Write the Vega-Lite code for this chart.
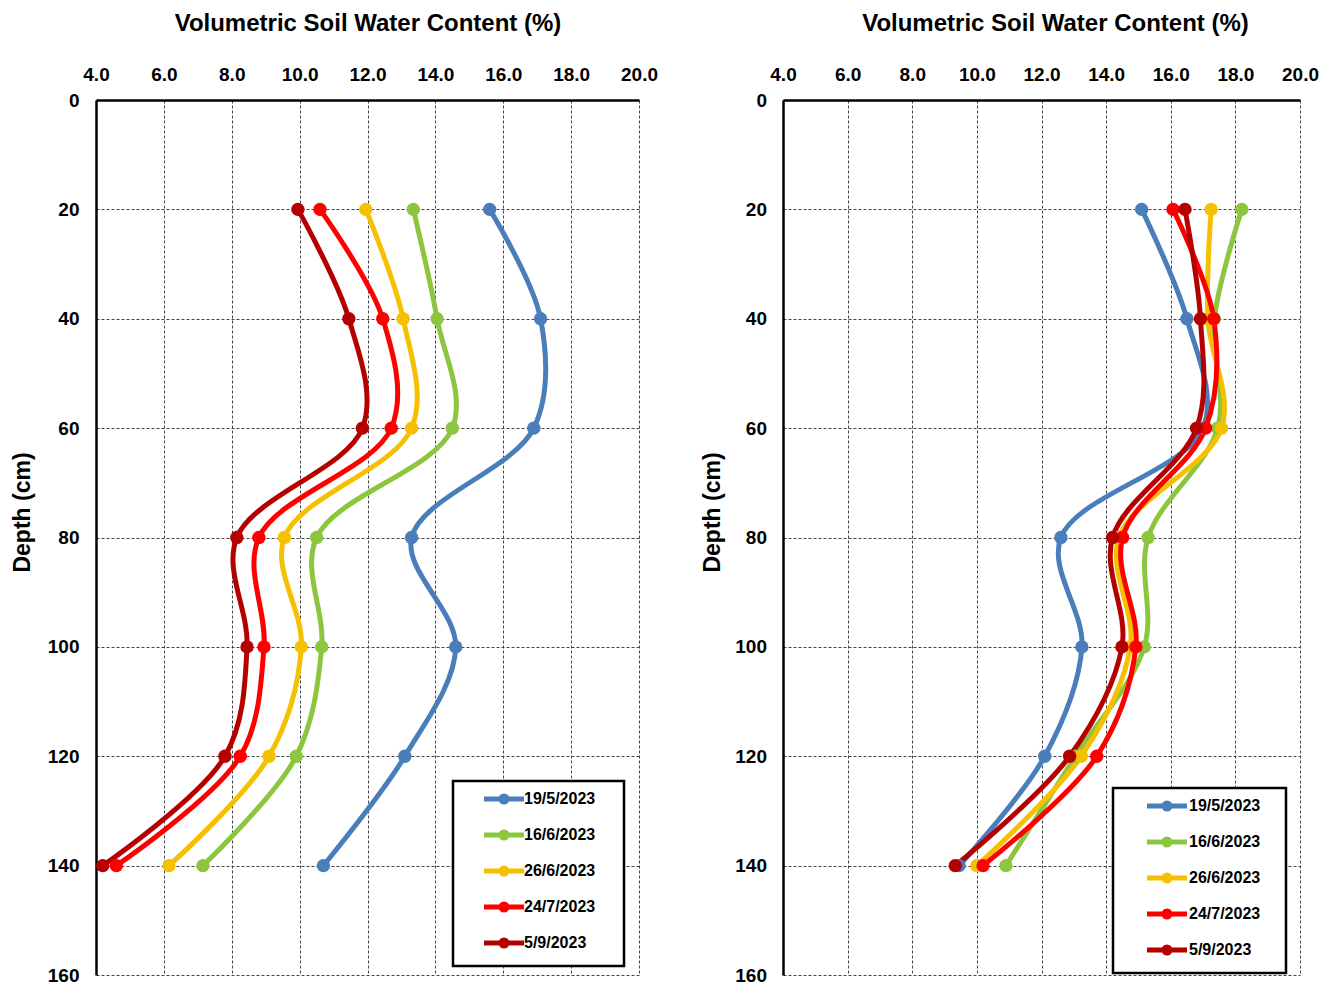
{
  "$schema": "https://vega.github.io/schema/vega-lite/v6.json",
  "autosize": {"type": "none"},
  "padding": {"left": 96, "top": 100, "right": 1237, "bottom": 884},
  "background": "white",
  "config": {
    "font": "Liberation Sans",
    "view": {"stroke": null},
    "legend": {"strokeColor": "black", "strokeWidth": 2.5, "fillColor": "white"},
    "axis": {
      "domainColor": "black",
      "domainWidth": 2.5,
      "ticks": false,
      "grid": true,
      "gridColor": "#444444",
      "gridDash": [3, 2],
      "gridWidth": 1,
      "labelFont": "Liberation Sans",
      "labelFontWeight": "bold",
      "labelFontSize": 19,
      "labelColor": "black",
      "labelFlush": false,
      "labelOverlap": false,
      "titleFont": "Liberation Sans",
      "titleFontWeight": "bold",
      "titleFontSize": 24,
      "titleColor": "black"
    }
  },
  "data": {
    "values": [
      {"panel": "a", "date": "19/5/2023", "depth": 20, "vwc": 15.6},
      {"panel": "a", "date": "19/5/2023", "depth": 40, "vwc": 17.1},
      {"panel": "a", "date": "19/5/2023", "depth": 60, "vwc": 16.9},
      {"panel": "a", "date": "19/5/2023", "depth": 80, "vwc": 13.3},
      {"panel": "a", "date": "19/5/2023", "depth": 100, "vwc": 14.6},
      {"panel": "a", "date": "19/5/2023", "depth": 120, "vwc": 13.1},
      {"panel": "a", "date": "19/5/2023", "depth": 140, "vwc": 10.7},
      {"panel": "a", "date": "16/6/2023", "depth": 20, "vwc": 13.35},
      {"panel": "a", "date": "16/6/2023", "depth": 40, "vwc": 14.05},
      {"panel": "a", "date": "16/6/2023", "depth": 60, "vwc": 14.5},
      {"panel": "a", "date": "16/6/2023", "depth": 80, "vwc": 10.5},
      {"panel": "a", "date": "16/6/2023", "depth": 100, "vwc": 10.65},
      {"panel": "a", "date": "16/6/2023", "depth": 120, "vwc": 9.9},
      {"panel": "a", "date": "16/6/2023", "depth": 140, "vwc": 7.15},
      {"panel": "a", "date": "26/6/2023", "depth": 20, "vwc": 11.95},
      {"panel": "a", "date": "26/6/2023", "depth": 40, "vwc": 13.05},
      {"panel": "a", "date": "26/6/2023", "depth": 60, "vwc": 13.3},
      {"panel": "a", "date": "26/6/2023", "depth": 80, "vwc": 9.55},
      {"panel": "a", "date": "26/6/2023", "depth": 100, "vwc": 10.05},
      {"panel": "a", "date": "26/6/2023", "depth": 120, "vwc": 9.1},
      {"panel": "a", "date": "26/6/2023", "depth": 140, "vwc": 6.15},
      {"panel": "a", "date": "24/7/2023", "depth": 20, "vwc": 10.6},
      {"panel": "a", "date": "24/7/2023", "depth": 40, "vwc": 12.45},
      {"panel": "a", "date": "24/7/2023", "depth": 60, "vwc": 12.7},
      {"panel": "a", "date": "24/7/2023", "depth": 80, "vwc": 8.8},
      {"panel": "a", "date": "24/7/2023", "depth": 100, "vwc": 8.95},
      {"panel": "a", "date": "24/7/2023", "depth": 120, "vwc": 8.25},
      {"panel": "a", "date": "24/7/2023", "depth": 140, "vwc": 4.6},
      {"panel": "a", "date": "5/9/2023", "depth": 20, "vwc": 9.95},
      {"panel": "a", "date": "5/9/2023", "depth": 40, "vwc": 11.45},
      {"panel": "a", "date": "5/9/2023", "depth": 60, "vwc": 11.85},
      {"panel": "a", "date": "5/9/2023", "depth": 80, "vwc": 8.15},
      {"panel": "a", "date": "5/9/2023", "depth": 100, "vwc": 8.45},
      {"panel": "a", "date": "5/9/2023", "depth": 120, "vwc": 7.8},
      {"panel": "a", "date": "5/9/2023", "depth": 140, "vwc": 4.2},
      {"panel": "b", "date": "19/5/2023", "depth": 20, "vwc": 15.1},
      {"panel": "b", "date": "19/5/2023", "depth": 40, "vwc": 16.5},
      {"panel": "b", "date": "19/5/2023", "depth": 60, "vwc": 17.0},
      {"panel": "b", "date": "19/5/2023", "depth": 80, "vwc": 12.6},
      {"panel": "b", "date": "19/5/2023", "depth": 100, "vwc": 13.25},
      {"panel": "b", "date": "19/5/2023", "depth": 120, "vwc": 12.1},
      {"panel": "b", "date": "19/5/2023", "depth": 140, "vwc": 9.45},
      {"panel": "b", "date": "16/6/2023", "depth": 20, "vwc": 18.2},
      {"panel": "b", "date": "16/6/2023", "depth": 40, "vwc": 17.35},
      {"panel": "b", "date": "16/6/2023", "depth": 60, "vwc": 17.45},
      {"panel": "b", "date": "16/6/2023", "depth": 80, "vwc": 15.3},
      {"panel": "b", "date": "16/6/2023", "depth": 100, "vwc": 15.18},
      {"panel": "b", "date": "16/6/2023", "depth": 120, "vwc": 13.05},
      {"panel": "b", "date": "16/6/2023", "depth": 140, "vwc": 10.9},
      {"panel": "b", "date": "26/6/2023", "depth": 20, "vwc": 17.25},
      {"panel": "b", "date": "26/6/2023", "depth": 40, "vwc": 17.15},
      {"panel": "b", "date": "26/6/2023", "depth": 60, "vwc": 17.57},
      {"panel": "b", "date": "26/6/2023", "depth": 80, "vwc": 14.4},
      {"panel": "b", "date": "26/6/2023", "depth": 100, "vwc": 14.75},
      {"panel": "b", "date": "26/6/2023", "depth": 120, "vwc": 13.23},
      {"panel": "b", "date": "26/6/2023", "depth": 140, "vwc": 10.0},
      {"panel": "b", "date": "24/7/2023", "depth": 20, "vwc": 16.07},
      {"panel": "b", "date": "24/7/2023", "depth": 40, "vwc": 17.33},
      {"panel": "b", "date": "24/7/2023", "depth": 60, "vwc": 17.08},
      {"panel": "b", "date": "24/7/2023", "depth": 80, "vwc": 14.51},
      {"panel": "b", "date": "24/7/2023", "depth": 100, "vwc": 14.92},
      {"panel": "b", "date": "24/7/2023", "depth": 120, "vwc": 13.71},
      {"panel": "b", "date": "24/7/2023", "depth": 140, "vwc": 10.19},
      {"panel": "b", "date": "5/9/2023", "depth": 20, "vwc": 16.44},
      {"panel": "b", "date": "5/9/2023", "depth": 40, "vwc": 16.92},
      {"panel": "b", "date": "5/9/2023", "depth": 60, "vwc": 16.8},
      {"panel": "b", "date": "5/9/2023", "depth": 80, "vwc": 14.2},
      {"panel": "b", "date": "5/9/2023", "depth": 100, "vwc": 14.49},
      {"panel": "b", "date": "5/9/2023", "depth": 120, "vwc": 12.87},
      {"panel": "b", "date": "5/9/2023", "depth": 140, "vwc": 9.33}
    ]
  },
  "spacing": 144,
  "bounds": "flush",
  "resolve": {"legend": {"color": "independent"}},
  "hconcat": [
    {
      "width": 543,
      "height": 875,
      "transform": [{"filter": "datum.panel === 'a'"}],
      "encoding": {
        "x": {
          "field": "vwc", "type": "quantitative",
          "scale": {"domain": [4, 20], "nice": false, "zero": false},
          "axis": {"orient": "top", "values": [4, 6, 8, 10, 12, 14, 16, 18, 20], "format": ".1f",
                   "title": "Volumetric Soil Water Content (%)", "labelPadding": 16, "titleY": -65}
        },
        "y": {
          "field": "depth", "type": "quantitative",
          "scale": {"domain": [0, 160], "reverse": true, "nice": false, "zero": false},
          "axis": {"values": [0, 20, 40, 60, 80, 100, 120, 140, 160], "title": "Depth (cm)",
                   "titleFontSize": 23, "labelPadding": 17, "titleX": -62, "titleY": 412}
        },
        "color": {
          "field": "date", "type": "nominal",
          "scale": {"domain": ["19/5/2023", "16/6/2023", "26/6/2023", "24/7/2023", "5/9/2023"],
                    "range": ["#4A7EBB", "#8CC63F", "#F5C000", "#FF0000", "#B50000"]},
          "legend": {
            "orient": "none", "legendX": 357, "legendY": 681, "title": null,
            "padding": 10,
            "symbolType": "M-5,0L5,0M0.75,0A0.75,0.75,0,1,1,-0.75,0A0.75,0.75,0,1,1,0.75,0ZM25,0",
            "symbolSize": 64, "symbolStrokeWidth": 5, "symbolOffset": 33, "labelOffset": 12,
            "labelFont": "Liberation Sans", "labelFontSize": 16, "labelFontWeight": "bold", "labelColor": "black",
            "rowPadding": 10,
            "encode": {"symbols": {"update": {"fill": {"scale": "color", "field": "value"}, "stroke": {"scale": "color", "field": "value"}, "opacity": {"value": 1}}}}
          }
        },
        "order": {"field": "depth", "type": "quantitative"}
      },
      "layer": [
        {"mark": {"type": "line", "interpolate": "catmull-rom", "strokeWidth": 5}},
        {"mark": {"type": "point", "filled": true, "size": 180, "opacity": 1}}
      ]
    },
    {
      "width": 517,
      "height": 875,
      "transform": [{"filter": "datum.panel === 'b'"}],
      "encoding": {
        "x": {
          "field": "vwc", "type": "quantitative",
          "scale": {"domain": [4, 20], "nice": false, "zero": false},
          "axis": {"orient": "top", "values": [4, 6, 8, 10, 12, 14, 16, 18, 20], "format": ".1f",
                   "title": "Volumetric Soil Water Content (%)", "labelPadding": 16, "titleY": -65, "titleX": 272}
        },
        "y": {
          "field": "depth", "type": "quantitative",
          "scale": {"domain": [0, 160], "reverse": true, "nice": false, "zero": false},
          "axis": {"values": [0, 20, 40, 60, 80, 100, 120, 140, 160], "title": "Depth (cm)",
                   "titleFontSize": 23, "labelPadding": 16.5, "titleX": -59, "titleY": 412}
        },
        "color": {
          "field": "date", "type": "nominal",
          "scale": {"domain": ["19/5/2023", "16/6/2023", "26/6/2023", "24/7/2023", "5/9/2023"],
                    "range": ["#4A7EBB", "#8CC63F", "#F5C000", "#FF0000", "#B50000"]},
          "legend": {
            "orient": "none", "legendX": 330, "legendY": 688, "title": null,
            "padding": 10,
            "symbolType": "M-5,0L5,0M0.75,0A0.75,0.75,0,1,1,-0.75,0A0.75,0.75,0,1,1,0.75,0ZM24.7,0",
            "symbolSize": 64, "symbolStrokeWidth": 5, "symbolOffset": 36, "labelOffset": 14,
            "labelFont": "Liberation Sans", "labelFontSize": 16, "labelFontWeight": "bold", "labelColor": "black",
            "rowPadding": 10,
            "encode": {"symbols": {"update": {"fill": {"scale": "color", "field": "value"}, "stroke": {"scale": "color", "field": "value"}, "opacity": {"value": 1}}}}
          }
        },
        "order": {"field": "depth", "type": "quantitative"}
      },
      "layer": [
        {"mark": {"type": "line", "interpolate": "catmull-rom", "strokeWidth": 5}},
        {"mark": {"type": "point", "filled": true, "size": 180, "opacity": 1}}
      ]
    }
  ]
}
